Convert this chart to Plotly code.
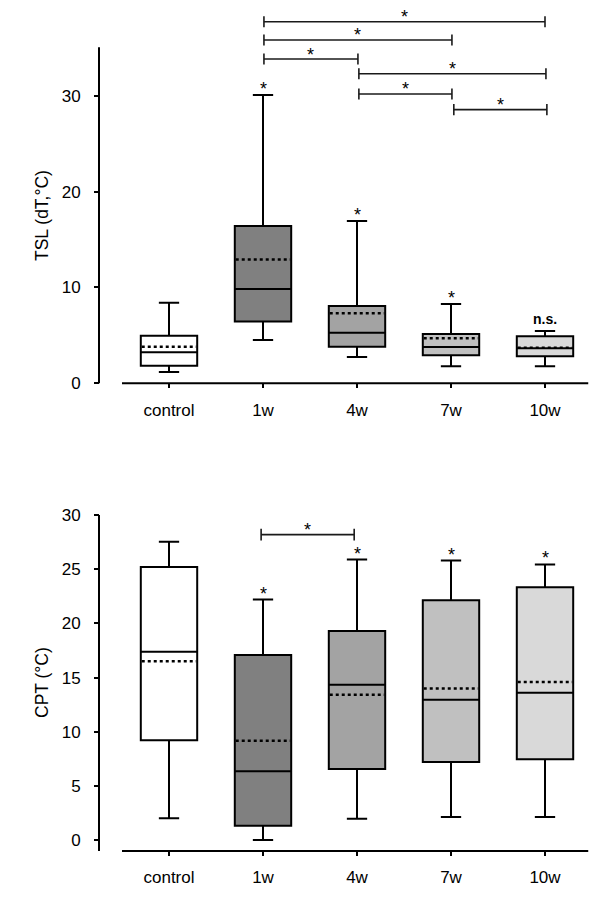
import plotly.graph_objects as go

# ---------------- data ----------------
categories = ["control", "1w", "4w", "7w", "10w"]

# TSL (top panel)
tsl_lower = [1.12, 4.47, 2.69, 1.72, 1.72]
tsl_q1 = [1.78, 6.4, 3.77, 2.86, 2.76]
tsl_median = [3.18, 9.8, 5.23, 3.73, 3.6]
tsl_mean = [3.77, 12.9, 7.26, 4.64, 3.66]
tsl_q3 = [4.92, 16.4, 8.03, 5.1, 4.85]
tsl_upper = [8.37, 30.1, 16.92, 8.23, 5.41]
tsl_marks = ["", "*", "*", "*", "n.s."]
tsl_y_ticks = [0, 10, 20, 30]
tsl_bracket_start = [1.01, 1.01, 1.01, 2.02, 2.02, 3.03]
tsl_bracket_end = [4.0, 3.01, 2.01, 4.01, 3.01, 4.02]
tsl_bracket_height = [37.77, 35.86, 33.87, 32.33, 30.21, 28.57]

# CPT (bottom panel)
cpt_lower = [2.0, 0.0, 1.97, 2.12, 2.12]
cpt_q1 = [9.2, 1.32, 6.56, 7.2, 7.45]
cpt_median = [17.39, 6.34, 14.34, 12.96, 13.6]
cpt_mean = [16.5, 9.17, 13.42, 14.0, 14.59]
cpt_q3 = [25.2, 17.08, 19.3, 22.13, 23.33]
cpt_upper = [27.54, 22.2, 25.9, 25.8, 25.45]
cpt_marks = ["", "*", "*", "*", "*"]
cpt_y_ticks = [0, 5, 10, 15, 20, 25, 30]
cpt_bracket_start = [0.98]
cpt_bracket_end = [1.97]
cpt_bracket_height = [28.2]

# ---------------- style ----------------
OFF = 8                 # page body margin
W, H = 600 - 2 * OFF, 905 - 2 * OFF
FONT = "Arial, 'Liberation Sans', sans-serif"
fills = ["#ffffff", "#808080", "#a3a3a3", "#c0c0c0", "#d9d9d9"]
positions = list(range(len(categories)))


def py(pix):
    """window pixel row -> paper fraction"""
    return (H - (pix - OFF)) / H


def px(pix):
    """window pixel column -> paper fraction"""
    return (pix - OFF) / W


# x mapping: category 0 at window column 169, 94 px per category
X0 = 169 - OFF
X_RANGE = [-X0 / 94, (W - X0) / 94]

# window pixel geometry of each panel
TOP = dict(zero=382.7, scale=9.557, top=OFF, bottom=400, xline=383.3, yline_top=35.09, yline_bot=-0.07)
BOT = dict(zero=840.0, scale=10.83, top=460, bottom=880, xline=851.0, yline_top=30.0, yline_bot=-1.02)

fig = go.Figure()
shapes = []
annotations = []


def panel(xa, ya, geo, lower, q1, med, mean, q3, upper, marks, bstart, bend, bheight, tick_half):
    xref = xa
    yref = ya
    for i in positions:
        fig.add_trace(go.Box(
            x=[i], q1=[q1[i]], median=[med[i]], q3=[q3[i]],
            lowerfence=[lower[i]], upperfence=[upper[i]],
            width=0.6, whiskerwidth=0.36, fillcolor=fills[i],
            line=dict(color="black", width=2), boxpoints=False,
            orientation="v", hoverinfo="skip",
            xaxis=xref, yaxis=yref,
        ))
    # mean dotted lines
    mx, my = [], []
    for i in positions:
        mx += [i - 0.29, i + 0.29, None]
        my += [mean[i], mean[i], None]
    fig.add_trace(go.Scatter(x=mx, y=my, mode="lines",
                             line=dict(color="black", width=2.5, dash="dot"),
                             hoverinfo="skip", xaxis=xref, yaxis=yref))
    # significance brackets
    bx, by = [], []
    for s, e, h in zip(bstart, bend, bheight):
        bx += [s, s, None, s, e, None, e, e, None]
        by += [h - tick_half, h + tick_half, None, h, h, None, h - tick_half, h + tick_half, None]
        annotations.append(dict(x=(s + e) / 2, y=h, xref=xref, yref=yref, text="*",
                                showarrow=False, xanchor="center", yanchor="bottom", yshift=-7.5,
                                font=dict(family=FONT, size=18, color="black")))
    fig.add_trace(go.Scatter(x=bx, y=by, mode="lines",
                             line=dict(color="#1a1a1a", width=1.6),
                             hoverinfo="skip", xaxis=xref, yaxis=yref))
    # marks above whiskers
    for i in positions:
        if marks[i] == "*":
            annotations.append(dict(x=i, y=upper[i], xref=xref, yref=yref, text="*",
                                    showarrow=False, xanchor="center", yanchor="bottom", yshift=-6,
                                    font=dict(family=FONT, size=18, color="black")))
        elif marks[i]:
            annotations.append(dict(x=i, y=upper[i], xref=xref, yref=yref,
                                    text="<b>" + marks[i] + "</b>",
                                    showarrow=False, xanchor="center", yanchor="bottom", yshift=2,
                                    font=dict(family=FONT, size=14, color="black")))
    # axis lines
    shapes.append(dict(type="line", xref="paper", yref=yref,
                       x0=px(99), x1=px(99), y0=geo["yline_bot"], y1=geo["yline_top"],
                       line=dict(color="black", width=2)))
    yv = (geo["zero"] - geo["xline"]) / geo["scale"]
    shapes.append(dict(type="line", xref=xref, yref=yref,
                       x0=-0.5, x1=4.46, y0=yv, y1=yv,
                       line=dict(color="black", width=2)))


panel("x", "y", TOP, tsl_lower, tsl_q1, tsl_median, tsl_mean, tsl_q3, tsl_upper,
      tsl_marks, tsl_bracket_start, tsl_bracket_end, tsl_bracket_height, 0.58)
panel("x2", "y2", BOT, cpt_lower, cpt_q1, cpt_median, cpt_mean, cpt_q3, cpt_upper,
      cpt_marks, cpt_bracket_start, cpt_bracket_end, cpt_bracket_height, 0.55)


def yrange(g):
    return [-(g["bottom"] - g["zero"]) / g["scale"], (g["zero"] - g["top"]) / g["scale"]]


tickfont = dict(family=FONT, size=17, color="black")
xcommon = dict(range=X_RANGE, domain=[0, 1], anchor="free", tickmode="array",
               tickvals=positions, ticktext=categories, ticks="outside", ticklen=4,
               tickwidth=2, tickcolor="black", showline=False, showgrid=False,
               zeroline=False, tickfont=tickfont, ticklabelstandoff=7, fixedrange=True)
ycommon = dict(anchor="free", position=px(99), ticks="outside", ticklen=5, tickwidth=2,
               tickcolor="black", showline=False, showgrid=False, zeroline=False,
               tickfont=tickfont, tickmode="array", ticklabelstandoff=10, fixedrange=True)

annotations.append(dict(x=px(42), y=py(216), xref="paper", yref="paper", text="TSL (dT,°C)",
                        textangle=-90, showarrow=False, xanchor="center", yanchor="middle",
                        font=dict(family=FONT, size=17.5, color="black")))
annotations.append(dict(x=px(42), y=py(683), xref="paper", yref="paper", text="CPT (°C)",
                        textangle=-90, showarrow=False, xanchor="center", yanchor="middle",
                        font=dict(family=FONT, size=17.5, color="black")))

fig.update_layout(
    width=W, height=H,
    margin=dict(l=0, r=0, t=0, b=0),
    paper_bgcolor="white", plot_bgcolor="white",
    showlegend=False, hovermode=False,
    xaxis=dict(xcommon, position=py(TOP["xline"])),
    xaxis2=dict(xcommon, position=py(BOT["xline"])),
    yaxis=dict(ycommon, domain=[py(TOP["bottom"]), py(TOP["top"])], range=yrange(TOP),
               tickvals=tsl_y_ticks),
    yaxis2=dict(ycommon, domain=[py(BOT["bottom"]), py(BOT["top"])], range=yrange(BOT),
                tickvals=cpt_y_ticks),
    shapes=shapes,
    annotations=annotations,
)

fig.write_html("out.html")
